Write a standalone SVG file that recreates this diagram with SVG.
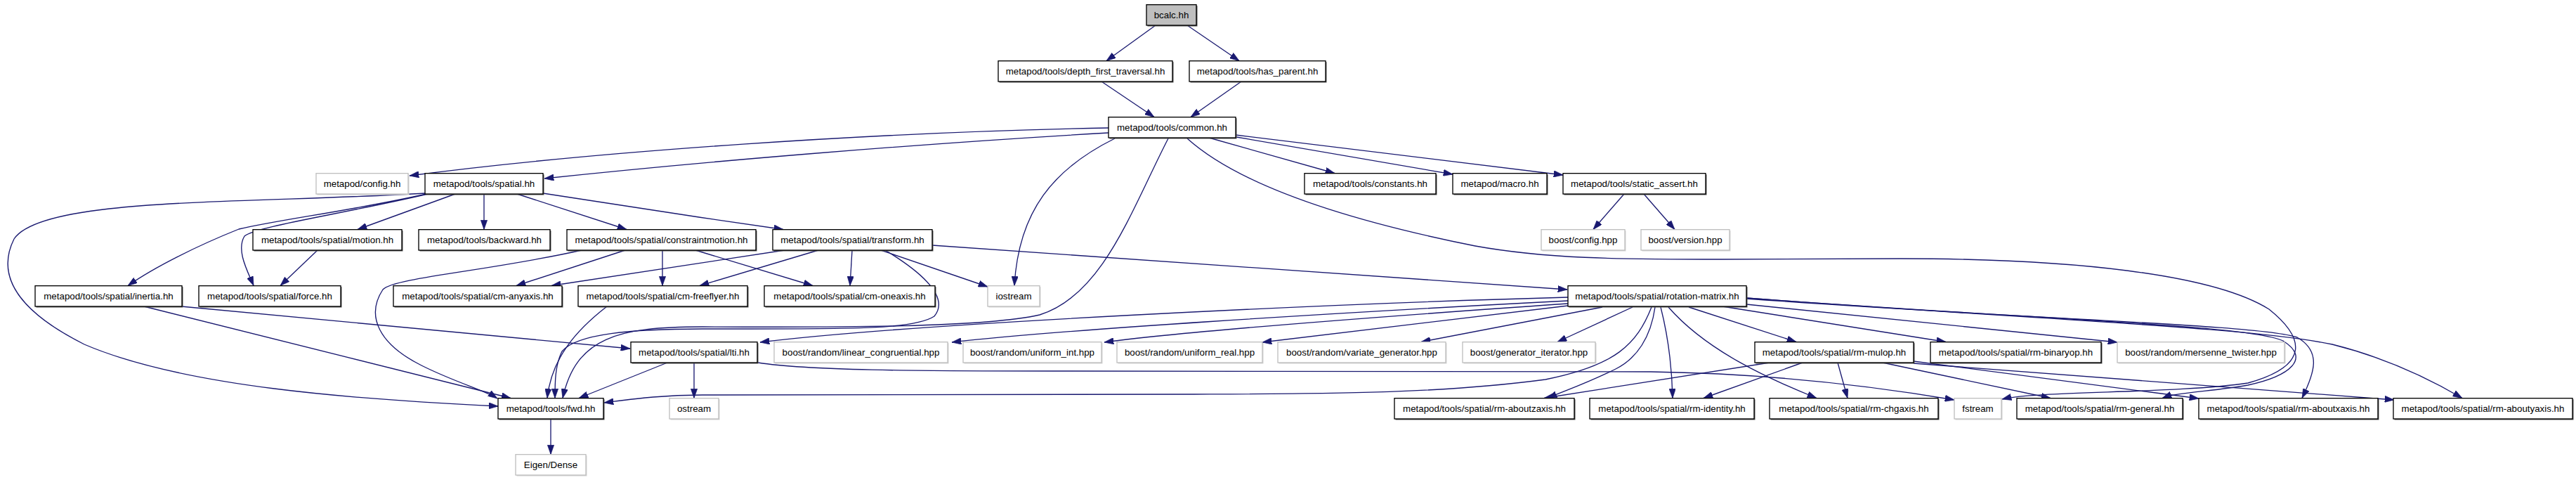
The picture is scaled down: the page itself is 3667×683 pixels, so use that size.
<svg xmlns="http://www.w3.org/2000/svg" width="3667" height="683" viewBox="0 0 3667 683">
<style>
text{font-family:"Liberation Sans",Arial,sans-serif;font-size:13.33px;text-anchor:middle;fill:#000}
.n rect.b{fill:#fff;stroke:#000;stroke-width:1.33}
.n rect.sh{fill:#555;stroke:none}
.g rect.b{fill:#fff;stroke:#bfbfbf;stroke-width:1.33}
.g rect.sh{fill:#d4d4d4;stroke:none}
.root rect.b{fill:#bfbfbf;stroke:#000;stroke-width:1.33}
.root rect.sh{fill:#555;stroke:none}
#edges path{fill:none;stroke:#191970;stroke-width:1.33;marker-end:url(#ah)}
</style>
<defs>
<marker id="ah" viewBox="0 0 10 7" refX="10" refY="3.5" markerWidth="13.3" markerHeight="9.3" markerUnits="userSpaceOnUse" orient="auto">
<path d="M0,0 L10,3.5 L0,7 z" fill="#191970" stroke="#191970" stroke-width="0.5"/>
</marker>
</defs>
<rect width="3667" height="683" fill="#fff"/>
<g id="edges">
<path d="M1645,36 L1575,86.5"/>
<path d="M1690,36 L1764,86.5"/>
<path d="M1568,116 L1643,166.5"/>
<path d="M1767,116 L1695,166.5"/>
<path d="M1578,182 C1250,188 850,215 583,250"/>
<path d="M1578,189 C1300,205 1000,230 775,254"/>
<path d="M1587,197 C1500,240 1450,300 1444,406.5"/>
<path d="M1663,197 C1610,300 1570,420 1480,448 C1400,466 1200,466 1000,465 C880,465 820,480 801,566.5"/>
<path d="M1721,196 L1900,246.5"/>
<path d="M1760,195 L2068,248"/>
<path d="M1759,192 L2225,249"/>
<path d="M1690,197 C1760,260 1900,310 2100,350 C2200,368 2300,369 2450,369 L2705,368 C2950,368 3150,390 3230,440 C3280,480 3290,520 3200,545 C3100,560 2900,556 2850,568"/>
<path d="M2312,276 L2268,326.5"/>
<path d="M2340,276 L2384,326.5"/>
<path d="M648,276 L509,326.5"/>
<path d="M689,276 L689,326.5"/>
<path d="M736,276 L892,326.5"/>
<path d="M773,275 C900,295 1000,310 1115,326.5"/>
<path d="M607,276 C500,300 400,312 340,326 C280,350 220,380 182,406.5"/>
<path d="M609,276 C480,306 365,322 348,336 C336,356 352,385 361,406.5"/>
<path d="M606,275 C350,290 60,280 20,340 C-10,400 40,450 120,490 C260,550 500,568 709,578"/>
<path d="M452,356 L399,406.5"/>
<path d="M890,356 L735,406.5"/>
<path d="M943,356 L943,406.5"/>
<path d="M990,356 L1157,406.5"/>
<path d="M828,356 C700,385 560,395 545,412 C520,450 540,490 600,520 C650,545 690,555 708,567"/>
<path d="M1117,356 L785,406.5"/>
<path d="M1165,356 L996,406.5"/>
<path d="M1213,356 L1210,406.5"/>
<path d="M1254,356 L1406,408"/>
<path d="M1260,356 C1300,380 1355,420 1330,450 C1300,470 1200,468 1000,468 C900,468 820,475 800,500 C790,520 790,545 790,566.5"/>
<path d="M1327,349 L2231,412"/>
<path d="M864,436 C820,470 785,510 779,566.5"/>
<path d="M205,436 L727,566.5"/>
<path d="M258,436 L897,496"/>
<path d="M950,516 L824,566.5"/>
<path d="M988,516 L988,566.5"/>
<path d="M1079,516 C1150,527 1300,528 1500,528 L2350,529 C2550,532 2700,555 2782,569"/>
<path d="M2351,437 C2330,490 2300,520 2200,540 C2050,560 1900,560 1700,561 L1000,562 C940,562 900,568 860,573"/>
<path d="M2356,437 C2350,480 2330,510 2300,525 C2260,545 2230,555 2203,566.5"/>
<path d="M2519,516 L2198,566.5"/>
<path d="M2364,437 C2375,480 2380,520 2381,566.5"/>
<path d="M2566,516 L2425,566.5"/>
<path d="M2375,437 C2430,500 2520,540 2586,566.5"/>
<path d="M2616,516 L2630,566.5"/>
<path d="M2404,437 L2557,486.5"/>
<path d="M2452,436 L2770,486.5"/>
<path d="M2486,433 L3014,487"/>
<path d="M2486,424 C2900,455 3200,465 3320,490 C3400,510 3460,540 3505,566.5"/>
<path d="M2486,425 C2900,455 3220,462 3270,480 C3305,500 3295,530 3277,566.5"/>
<path d="M2486,424 C2900,455 3200,462 3250,485 C3290,510 3260,535 3200,548 C3150,557 3100,558 3078,566.5"/>
<path d="M2680,516 L2919,566.5"/>
<path d="M2724,514 L3130,567"/>
<path d="M2724,517 C3000,540 3250,555 3408,569"/>
<path d="M2232,423 C1900,432 1300,460 1082,487"/>
<path d="M2232,428 C1900,445 1500,470 1355,487"/>
<path d="M2232,432 C2000,448 1700,470 1572,487"/>
<path d="M2232,435 L1797,487"/>
<path d="M2281,437 L2023,486.5"/>
<path d="M2324,437 L2217,486.5"/>
<path d="M784,596 L784,646.5"/>
</g>
<g id="node-bcalc" class="root"><rect class="sh" x="1633.5" y="8.17" width="71" height="29.33"/><rect class="b" x="1632" y="6.67" width="71" height="29.33"/><text x="1667.5" y="26.2">bcalc.hh</text></g>
<g id="node-depth" class="n"><rect class="sh" x="1422.5" y="88.17" width="248" height="29.33"/><rect class="b" x="1421" y="86.67" width="248" height="29.33"/><text x="1545" y="106.2">metapod/tools/depth_first_traversal.hh</text></g>
<g id="node-hasparent" class="n"><rect class="sh" x="1694.5" y="88.17" width="194" height="29.33"/><rect class="b" x="1693" y="86.67" width="194" height="29.33"/><text x="1790" y="106.2">metapod/tools/has_parent.hh</text></g>
<g id="node-common" class="n"><rect class="sh" x="1579.5" y="168.17" width="181" height="29.33"/><rect class="b" x="1578" y="166.67" width="181" height="29.33"/><text x="1668.5" y="186.2">metapod/tools/common.hh</text></g>
<g id="node-config" class="g"><rect class="sh" x="451.5" y="248.17" width="131" height="29.33"/><rect class="b" x="450" y="246.67" width="131" height="29.33"/><text x="515.5" y="266.2">metapod/config.hh</text></g>
<g id="node-spatial" class="n"><rect class="sh" x="606.5" y="248.17" width="168" height="29.33"/><rect class="b" x="605" y="246.67" width="168" height="29.33"/><text x="689" y="266.2">metapod/tools/spatial.hh</text></g>
<g id="node-constants" class="n"><rect class="sh" x="1858.5" y="248.17" width="187" height="29.33"/><rect class="b" x="1857" y="246.67" width="187" height="29.33"/><text x="1950.5" y="266.2">metapod/tools/constants.hh</text></g>
<g id="node-macro" class="n"><rect class="sh" x="2069.5" y="248.17" width="134" height="29.33"/><rect class="b" x="2068" y="246.67" width="134" height="29.33"/><text x="2135" y="266.2">metapod/macro.hh</text></g>
<g id="node-staticassert" class="n"><rect class="sh" x="2226.5" y="248.17" width="203" height="29.33"/><rect class="b" x="2225" y="246.67" width="203" height="29.33"/><text x="2326.5" y="266.2">metapod/tools/static_assert.hh</text></g>
<g id="node-motion" class="n"><rect class="sh" x="361.5" y="328.17" width="212" height="29.33"/><rect class="b" x="360" y="326.67" width="212" height="29.33"/><text x="466" y="346.2">metapod/tools/spatial/motion.hh</text></g>
<g id="node-backward" class="n"><rect class="sh" x="597.5" y="328.17" width="187" height="29.33"/><rect class="b" x="596" y="326.67" width="187" height="29.33"/><text x="689.5" y="346.2">metapod/tools/backward.hh</text></g>
<g id="node-constraintmotion" class="n"><rect class="sh" x="808.5" y="328.17" width="269" height="29.33"/><rect class="b" x="807" y="326.67" width="269" height="29.33"/><text x="941.5" y="346.2">metapod/tools/spatial/constraintmotion.hh</text></g>
<g id="node-transform" class="n"><rect class="sh" x="1101.5" y="328.17" width="227" height="29.33"/><rect class="b" x="1100" y="326.67" width="227" height="29.33"/><text x="1213.5" y="346.2">metapod/tools/spatial/transform.hh</text></g>
<g id="node-boostconfig" class="g"><rect class="sh" x="2195.5" y="328.17" width="119" height="29.33"/><rect class="b" x="2194" y="326.67" width="119" height="29.33"/><text x="2253.5" y="346.2">boost/config.hpp</text></g>
<g id="node-boostversion" class="g"><rect class="sh" x="2337.5" y="328.17" width="126" height="29.33"/><rect class="b" x="2336" y="326.67" width="126" height="29.33"/><text x="2399" y="346.2">boost/version.hpp</text></g>
<g id="node-inertia" class="n"><rect class="sh" x="51.5" y="408.17" width="209" height="29.33"/><rect class="b" x="50" y="406.67" width="209" height="29.33"/><text x="154.5" y="426.2">metapod/tools/spatial/inertia.hh</text></g>
<g id="node-force" class="n"><rect class="sh" x="284.5" y="408.17" width="202" height="29.33"/><rect class="b" x="283" y="406.67" width="202" height="29.33"/><text x="384" y="426.2">metapod/tools/spatial/force.hh</text></g>
<g id="node-cmanyaxis" class="n"><rect class="sh" x="561.5" y="408.17" width="240" height="29.33"/><rect class="b" x="560" y="406.67" width="240" height="29.33"/><text x="680" y="426.2">metapod/tools/spatial/cm-anyaxis.hh</text></g>
<g id="node-cmfreeflyer" class="n"><rect class="sh" x="824.5" y="408.17" width="241" height="29.33"/><rect class="b" x="823" y="406.67" width="241" height="29.33"/><text x="943.5" y="426.2">metapod/tools/spatial/cm-freeflyer.hh</text></g>
<g id="node-cmoneaxis" class="n"><rect class="sh" x="1089.5" y="408.17" width="243" height="29.33"/><rect class="b" x="1088" y="406.67" width="243" height="29.33"/><text x="1209.5" y="426.2">metapod/tools/spatial/cm-oneaxis.hh</text></g>
<g id="node-iostream" class="g"><rect class="sh" x="1407.5" y="408.17" width="74" height="29.33"/><rect class="b" x="1406" y="406.67" width="74" height="29.33"/><text x="1443" y="426.2">iostream</text></g>
<g id="node-rotationmatrix" class="n"><rect class="sh" x="2233.5" y="408.17" width="254" height="29.33"/><rect class="b" x="2232" y="406.67" width="254" height="29.33"/><text x="2359" y="426.2">metapod/tools/spatial/rotation-matrix.hh</text></g>
<g id="node-lti" class="n"><rect class="sh" x="899.5" y="488.17" width="180" height="29.33"/><rect class="b" x="898" y="486.67" width="180" height="29.33"/><text x="988" y="506.2">metapod/tools/spatial/lti.hh</text></g>
<g id="node-linearcong" class="g"><rect class="sh" x="1103.5" y="488.17" width="247" height="29.33"/><rect class="b" x="1102" y="486.67" width="247" height="29.33"/><text x="1225.5" y="506.2">boost/random/linear_congruential.hpp</text></g>
<g id="node-uniformint" class="g"><rect class="sh" x="1372.5" y="488.17" width="197" height="29.33"/><rect class="b" x="1371" y="486.67" width="197" height="29.33"/><text x="1469.5" y="506.2">boost/random/uniform_int.hpp</text></g>
<g id="node-uniformreal" class="g"><rect class="sh" x="1591.5" y="488.17" width="207" height="29.33"/><rect class="b" x="1590" y="486.67" width="207" height="29.33"/><text x="1693.5" y="506.2">boost/random/uniform_real.hpp</text></g>
<g id="node-variategen" class="g"><rect class="sh" x="1820.5" y="488.17" width="239" height="29.33"/><rect class="b" x="1819" y="486.67" width="239" height="29.33"/><text x="1938.5" y="506.2">boost/random/variate_generator.hpp</text></g>
<g id="node-geniter" class="g"><rect class="sh" x="2083.5" y="488.17" width="189" height="29.33"/><rect class="b" x="2082" y="486.67" width="189" height="29.33"/><text x="2176.5" y="506.2">boost/generator_iterator.hpp</text></g>
<g id="node-rmmulop" class="n"><rect class="sh" x="2499.5" y="488.17" width="226" height="29.33"/><rect class="b" x="2498" y="486.67" width="226" height="29.33"/><text x="2611" y="506.2">metapod/tools/spatial/rm-mulop.hh</text></g>
<g id="node-rmbinaryop" class="n"><rect class="sh" x="2749.5" y="488.17" width="243" height="29.33"/><rect class="b" x="2748" y="486.67" width="243" height="29.33"/><text x="2869.5" y="506.2">metapod/tools/spatial/rm-binaryop.hh</text></g>
<g id="node-mersenne" class="g"><rect class="sh" x="3015.5" y="488.17" width="238" height="29.33"/><rect class="b" x="3014" y="486.67" width="238" height="29.33"/><text x="3133" y="506.2">boost/random/mersenne_twister.hpp</text></g>
<g id="node-fwd" class="n"><rect class="sh" x="710.5" y="568.17" width="150" height="29.33"/><rect class="b" x="709" y="566.67" width="150" height="29.33"/><text x="784" y="586.2">metapod/tools/fwd.hh</text></g>
<g id="node-ostream" class="g"><rect class="sh" x="954.5" y="568.17" width="70" height="29.33"/><rect class="b" x="953" y="566.67" width="70" height="29.33"/><text x="988" y="586.2">ostream</text></g>
<g id="node-rmaboutzaxis" class="n"><rect class="sh" x="1986.5" y="568.17" width="256" height="29.33"/><rect class="b" x="1985" y="566.67" width="256" height="29.33"/><text x="2113" y="586.2">metapod/tools/spatial/rm-aboutzaxis.hh</text></g>
<g id="node-rmidentity" class="n"><rect class="sh" x="2264.5" y="568.17" width="234" height="29.33"/><rect class="b" x="2263" y="566.67" width="234" height="29.33"/><text x="2380" y="586.2">metapod/tools/spatial/rm-identity.hh</text></g>
<g id="node-rmchgaxis" class="n"><rect class="sh" x="2520.5" y="568.17" width="240" height="29.33"/><rect class="b" x="2519" y="566.67" width="240" height="29.33"/><text x="2639" y="586.2">metapod/tools/spatial/rm-chgaxis.hh</text></g>
<g id="node-fstream" class="g"><rect class="sh" x="2783.5" y="568.17" width="67" height="29.33"/><rect class="b" x="2782" y="566.67" width="67" height="29.33"/><text x="2815.5" y="586.2">fstream</text></g>
<g id="node-rmgeneral" class="n"><rect class="sh" x="2872.5" y="568.17" width="236" height="29.33"/><rect class="b" x="2871" y="566.67" width="236" height="29.33"/><text x="2989" y="586.2">metapod/tools/spatial/rm-general.hh</text></g>
<g id="node-rmaboutxaxis" class="n"><rect class="sh" x="3131.5" y="568.17" width="255" height="29.33"/><rect class="b" x="3130" y="566.67" width="255" height="29.33"/><text x="3257.5" y="586.2">metapod/tools/spatial/rm-aboutxaxis.hh</text></g>
<g id="node-rmaboutyaxis" class="n"><rect class="sh" x="3408.5" y="568.17" width="255" height="29.33"/><rect class="b" x="3407" y="566.67" width="255" height="29.33"/><text x="3534.5" y="586.2">metapod/tools/spatial/rm-aboutyaxis.hh</text></g>
<g id="node-eigendense" class="g"><rect class="sh" x="735.5" y="648.17" width="100" height="29.33"/><rect class="b" x="734" y="646.67" width="100" height="29.33"/><text x="784" y="666.2">Eigen/Dense</text></g>
</svg>
